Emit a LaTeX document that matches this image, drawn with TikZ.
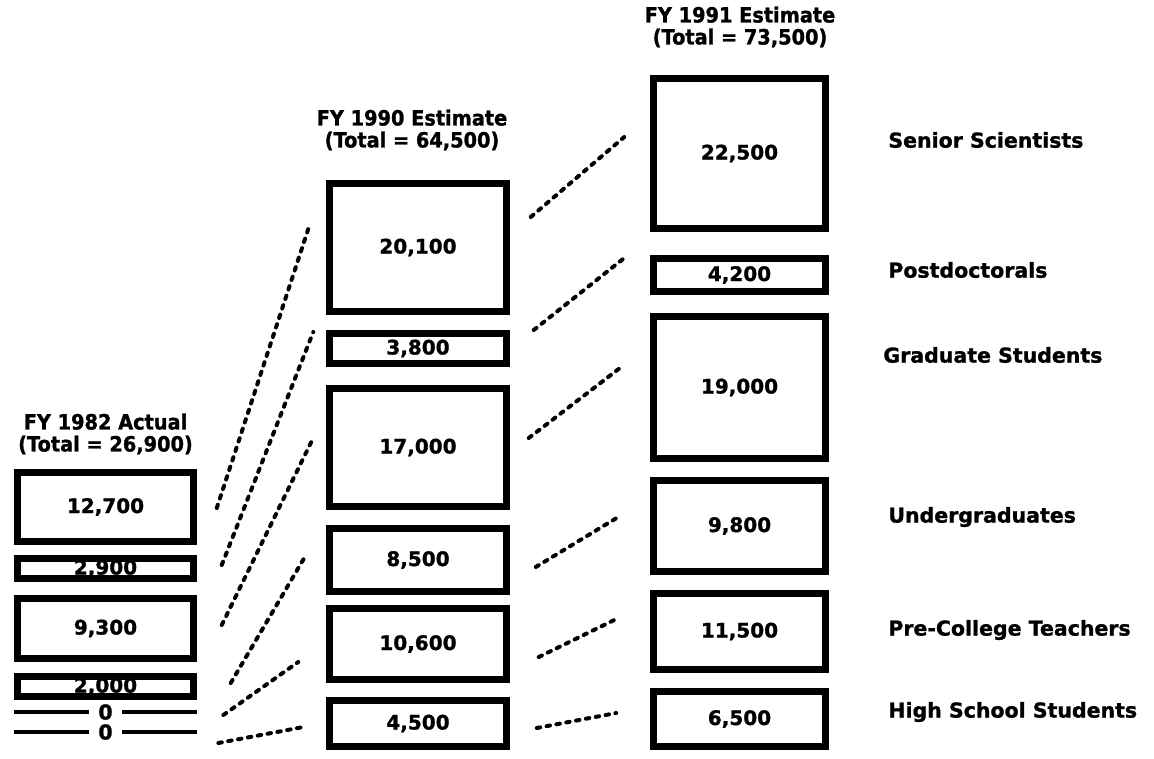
\documentclass[tikz,border=0pt]{standalone}
\usepackage{fontspec}
\setmainfont{DejaVu Sans}[BoldFeatures={FakeBold=1.2}]
\newfontfamily\headfont{DejaVu Sans}[FakeStretch=0.92, BoldFeatures={FakeBold=1.2}]
\usetikzlibrary{calc}

\tikzset{every picture/.style={line width=0.75pt}}

\begin{document}
\begin{tikzpicture}[x=1pt,y=1pt,yscale=-1,xscale=1,
	fybox/.style={draw, line width=7.5pt, inner sep=0pt, font=\fontsize{20}{24}\selectfont\bfseries},
	zerorow/.style={inner sep=0pt, minimum width=183pt, minimum height=0pt},
	zeroline/.style={line width=4.5pt},
	linkline/.style={line width=4pt, line cap=round, dash pattern={on 3.5pt off 6.5pt}},
	txt/.style={font=\fontsize{20.5}{24}\selectfont\bfseries, inner sep=0pt},
	head/.style={font=\headfont\fontsize{21}{22}\selectfont\bfseries, inner sep=0pt, align=center}]
	\path[use as bounding box] (0,0) rectangle (1154,758); %set diagram to the 1154 x 758 frame

	%Titles
	\node[head] (ttl82) at (105.5,434) {FY 1982 Actual\\(Total = 26,900)};
	\node[head] (ttl90) at (412,130) {FY 1990 Estimate\\(Total = 64,500)};
	\node[head] (ttl91) at (740,27) {FY 1991 Estimate\\(Total = 73,500)};

	%Column FY 1982
	\node[fybox, minimum width=176pt, minimum height=69pt] (s82) at (105.5,507) {12,700};
	\node[fybox, minimum width=176pt, minimum height=20pt] (p82) at (105.5,568.5) {2,900};
	\node[fybox, minimum width=176pt, minimum height=60pt] (g82) at (105.5,628.5) {9,300};
	\node[fybox, minimum width=176pt, minimum height=20pt] (u82) at (105.5,686.5) {2,000};
	%Zero rows
	\node[zerorow] (t82) at (105.5,712) {};
	\draw[zeroline] (t82.west) -- (t82.east);
	\node[txt, fill=white, inner xsep=9pt] (t82n) at (t82) {0};
	\node[zerorow] (h82) at (105.5,732) {};
	\draw[zeroline] (h82.west) -- (h82.east);
	\node[txt, fill=white, inner xsep=9pt] (h82n) at (h82) {0};

	%Column FY 1990
	\node[fybox, minimum width=177pt, minimum height=128pt] (s90) at (418,247.5) {20,100};
	\node[fybox, minimum width=177pt, minimum height=30pt] (p90) at (418,348.5) {3,800};
	\node[fybox, minimum width=177pt, minimum height=118pt] (g90) at (418,447.5) {17,000};
	\node[fybox, minimum width=177pt, minimum height=63pt] (u90) at (418,560) {8,500};
	\node[fybox, minimum width=177pt, minimum height=71pt] (t90) at (418,644) {10,600};
	\node[fybox, minimum width=177pt, minimum height=46pt] (h90) at (418,723.5) {4,500};

	%Column FY 1991
	\node[fybox, minimum width=172pt, minimum height=150pt] (s91) at (739.5,153.5) {22,500};
	\node[fybox, minimum width=172pt, minimum height=33pt] (p91) at (739.5,275) {4,200};
	\node[fybox, minimum width=172pt, minimum height=142pt] (g91) at (739.5,387.5) {19,000};
	\node[fybox, minimum width=172pt, minimum height=91pt] (u91) at (739.5,526) {9,800};
	\node[fybox, minimum width=172pt, minimum height=76pt] (t91) at (739.5,631.5) {11,500};
	\node[fybox, minimum width=172pt, minimum height=55pt] (h91) at (739.5,719) {6,500};

	%Dotted links 1982 -> 1990
	\draw[linkline] ($(s82.east)+(19.5,1)$) -- ($(s90.west)+(-16.5,-21.5)$);
	\draw[linkline] ($(p82.east)+(24.5,-3.5)$) -- ($(p90.west)+(-12.5,-16.5)$);
	\draw[linkline] ($(g82.east)+(24.5,-3.5)$) -- ($(g90.west)+(-14.5,-5.5)$);
	\draw[linkline] ($(u82.east)+(33.5,-3.5)$) -- ($(u90.west)+(-21.5,-2)$);
	\draw[linkline] ($(t82.east)+(26,3)$) -- ($(t90.west)+(-27.5,18)$);
	\draw[linkline] ($(h82.east)+(21,11)$) -- ($(h90.west)+(-22.5,3.5)$);

	%Dotted links 1990 -> 1991
	\draw[linkline] ($(s90.east)+(20.5,-30.5)$) -- ($(s91.west)+(-25.5,-16.5)$);
	\draw[linkline] ($(p90.east)+(23.5,-18.5)$) -- ($(p91.west)+(-25.5,-17)$);
	\draw[linkline] ($(g90.east)+(18.5,-9.5)$) -- ($(g91.west)+(-28.5,-20.5)$);
	\draw[linkline] ($(u90.east)+(25.5,7)$) -- ($(u91.west)+(-31.5,-9)$);
	\draw[linkline] ($(t90.east)+(28.5,13)$) -- ($(t91.west)+(-35.5,-11.5)$);
	\draw[linkline] ($(h90.east)+(26.5,4.5)$) -- ($(h91.west)+(-33.5,-6)$);

	% Text Node
	\node[txt, anchor=west] (lbs) at (888,140) {Senior Scientists};
	% Text Node
	\node[txt, anchor=west] (lbp) at (888,270) {Postdoctorals};
	% Text Node
	\node[txt, anchor=west] (lbg) at (883,355) {Graduate Students};
	% Text Node
	\node[txt, anchor=west] (lbu) at (888,517) {Undergraduates};
	% Text Node
	\node[txt, anchor=west] (lbt) at (888,630) {Pre-College Teachers};
	% Text Node
	\node[txt, anchor=west] (lbh) at (888,712) {High School Students};
\end{tikzpicture}
\end{document}
